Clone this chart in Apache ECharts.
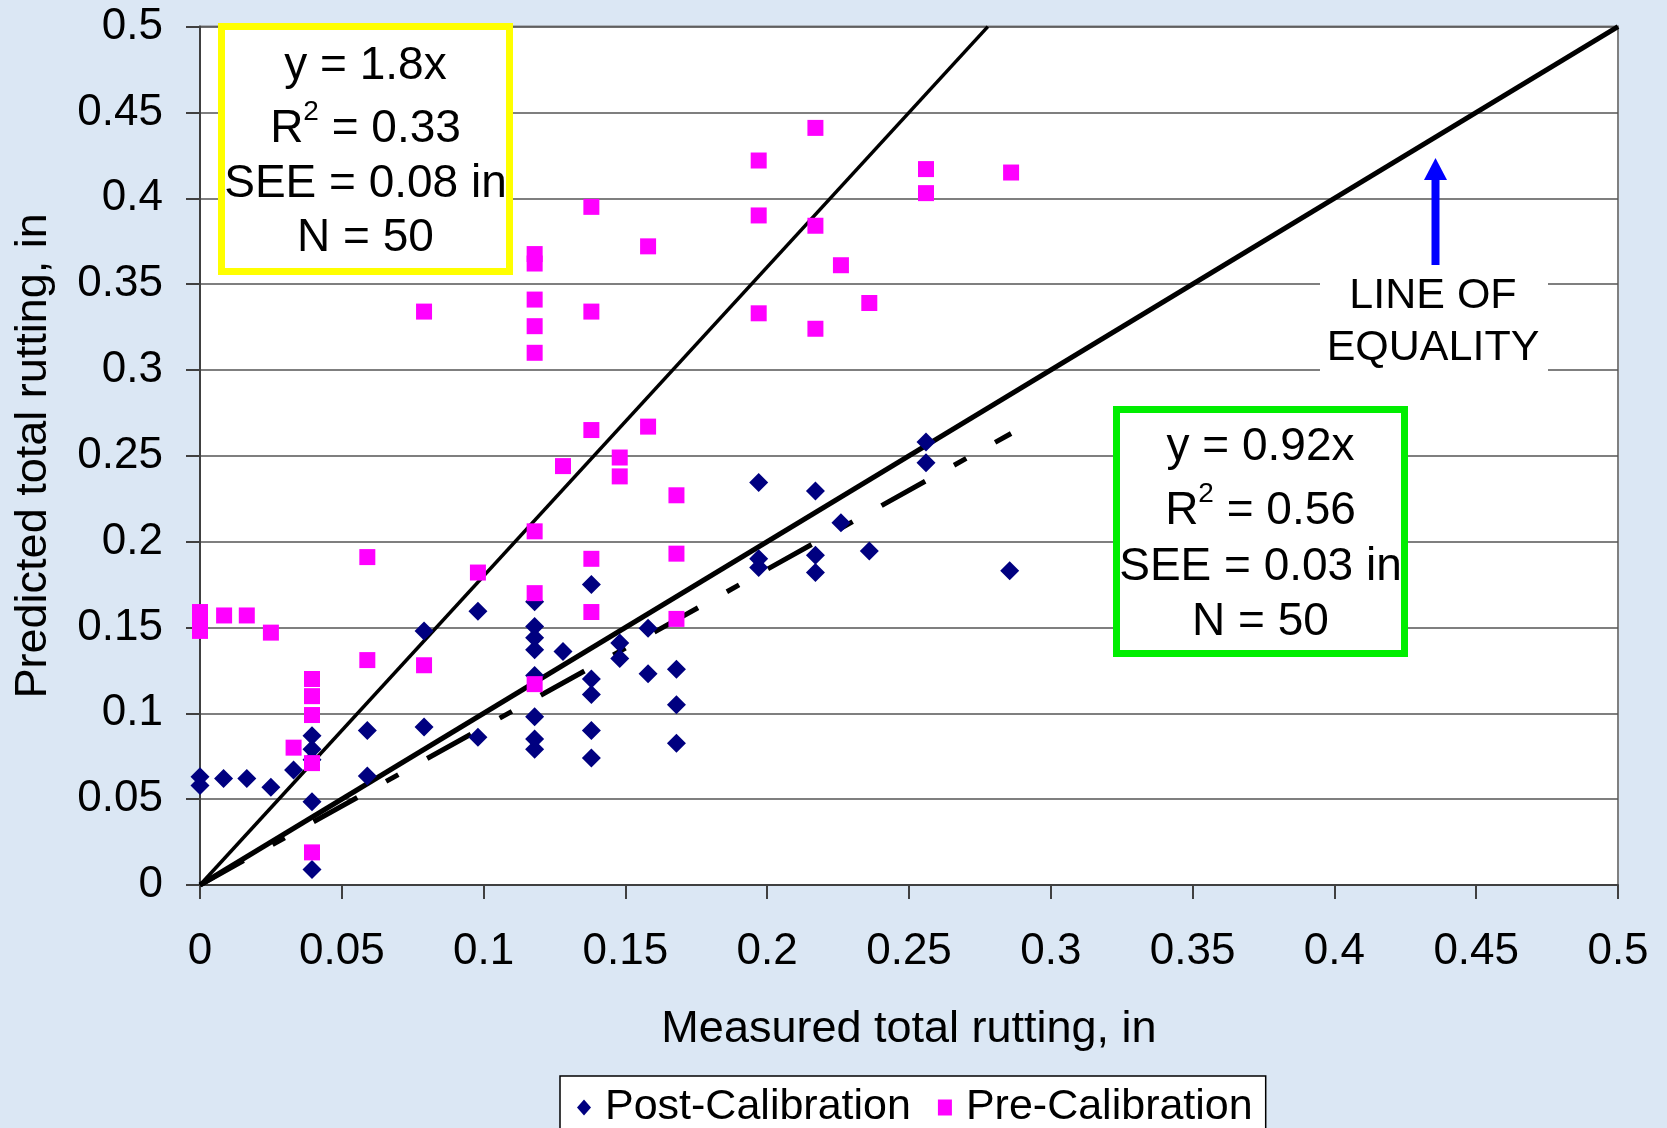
<!DOCTYPE html>
<html>
<head>
<meta charset="utf-8">
<script src="https://cdn.jsdelivr.net/npm/echarts@6/dist/echarts.min.js"></script>
<style>
html,body{margin:0;padding:0;background:#dbe7f4;}
#chart{width:1667px;height:1128px;}
</style>
</head>
<body>
<div id="chart"></div>
<script>
// ---- data ----
var postCalibration = [
  [0,0.063],[0,0.058],[0.0083,0.062],[0.0165,0.062],[0.025,0.057],[0.033,0.067],
  [0.0395,0.087],[0.0395,0.079],[0.0395,0.073],[0.0395,0.0485],[0.0395,0.009],
  [0.059,0.090],[0.059,0.0635],
  [0.079,0.148],[0.079,0.092],
  [0.098,0.1595],[0.098,0.086],
  [0.118,0.165],[0.118,0.1505],[0.118,0.144],[0.118,0.137],[0.118,0.122],[0.118,0.098],[0.118,0.085],[0.118,0.079],
  [0.128,0.136],
  [0.138,0.175],[0.138,0.120],[0.138,0.111],[0.138,0.090],[0.138,0.074],
  [0.148,0.141],[0.148,0.132],
  [0.158,0.1495],[0.158,0.123],
  [0.168,0.1256],[0.168,0.105],[0.168,0.0825],
  [0.197,0.2345],[0.197,0.190],[0.197,0.185],
  [0.217,0.2295],[0.217,0.192],[0.217,0.182],
  [0.226,0.211],[0.236,0.1945],
  [0.256,0.258],[0.256,0.246],
  [0.2855,0.183]
];
var preCalibration = [
  [0,0.159],[0,0.153],[0,0.148],
  [0.0085,0.157],[0.0165,0.157],[0.025,0.147],[0.033,0.080],
  [0.0395,0.120],[0.0395,0.110],[0.0395,0.099],[0.0395,0.071],[0.0395,0.019],
  [0.059,0.191],[0.059,0.131],
  [0.079,0.128],[0.079,0.334],
  [0.098,0.182],
  [0.118,0.206],[0.118,0.170],[0.118,0.117],[0.118,0.3675],[0.118,0.362],[0.118,0.341],[0.118,0.3255],[0.118,0.310],
  [0.128,0.244],
  [0.138,0.265],[0.138,0.190],[0.138,0.159],[0.138,0.395],[0.138,0.334],
  [0.148,0.249],[0.148,0.238],
  [0.158,0.267],[0.158,0.372],
  [0.168,0.227],[0.168,0.193],[0.168,0.155],
  [0.197,0.422],[0.197,0.390],[0.197,0.333],
  [0.217,0.441],[0.217,0.384],[0.217,0.324],
  [0.226,0.361],[0.236,0.339],
  [0.256,0.417],[0.256,0.403],
  [0.286,0.415]
];
var equalityLine = [[0,0],[0.5,0.5]];
var preFitLine = [[0,0],[0.2778,0.5]];      // y = 1.8x
var postFitLine = [[0,0],[0.286,0.263]];    // y = 0.92x
var preStats = ['y = 1.8x', '0.33', 'SEE = 0.08 in', 'N = 50'];
var postStats = ['y = 0.92x', '0.56', 'SEE = 0.03 in', 'N = 50'];
var axisMin = 0, axisMax = 0.5, axisStep = 0.05;

var FONT = '"Liberation Sans", Arial, sans-serif';
var chart = echarts.init(document.getElementById('chart'));

function statBox(cx, lineYs, stats, color, box) {
  var els = [{
    type: 'rect', z: 100,
    shape: box,
    style: {fill: '#fff', stroke: color, lineWidth: 7}
  }];
  var texts = [stats[0], '{a|R}{s|2}{a| = ' + stats[1] + '}', stats[2], stats[3]];
  for (var i = 0; i < 4; i++) {
    els.push({
      type: 'text', z: 101, x: cx, y: lineYs[i],
      style: {
        text: texts[i], fill: '#000', fontSize: 46, fontFamily: FONT,
        align: 'center', verticalAlign: 'middle',
        rich: i === 1 ? {
          a: {fontSize: 46, fontFamily: FONT, lineHeight: 62, fill: '#000'},
          s: {fontSize: 28, fontFamily: FONT, lineHeight: 28, verticalAlign: 'top', fill: '#000'}
        } : undefined
      }
    });
  }
  return els;
}

var graphics = []
  .concat(statBox(365.5, [66, 129, 184, 238], preStats, '#ffff00', {x: 221.5, y: 26.5, width: 288, height: 245}))
  .concat(statBox(1260.5, [447, 511, 567, 622], postStats, '#00ee00', {x: 1116.5, y: 409.5, width: 288, height: 244}))
  .concat([
    {type: 'rect', z: 100, shape: {x: 1320, y: 262, width: 228, height: 114}, style: {fill: '#fff'}},
    {type: 'text', z: 101, x: 1433, y: 296, style: {text: 'LINE OF', fontSize: 43, fontFamily: FONT, fill: '#000', align: 'center', verticalAlign: 'middle'}},
    {type: 'text', z: 101, x: 1433, y: 348, style: {text: 'EQUALITY', fontSize: 43, fontFamily: FONT, fill: '#000', align: 'center', verticalAlign: 'middle'}},
    {type: 'rect', z: 101, shape: {x: 1431.5, y: 178, width: 8, height: 87}, style: {fill: '#0000ff'}},
    {type: 'polygon', z: 101, shape: {points: [[1435.5, 158], [1424, 180], [1447, 180]]}, style: {fill: '#0000ff'}}
  ]);

var option = {
  backgroundColor: 'transparent',
  animation: false,
  textStyle: {fontFamily: FONT},
  grid: {
    left: 200, right: 49, top: 26.6, bottom: 243,
    show: true, backgroundColor: '#fff', borderColor: '#808080', borderWidth: 2
  },
  legend: {
    data: [
      {name: 'Post-Calibration', icon: 'diamond'},
      {name: 'Pre-Calibration', icon: 'rect'}
    ],
    left: 560, top: 1076,
    padding: [10, 13, 14, 17],
    itemWidth: 14, itemHeight: 16, itemGap: 27,
    backgroundColor: '#fff', borderColor: '#000', borderWidth: 1.5, borderRadius: 0,
    textStyle: {fontSize: 43, color: '#000', fontFamily: FONT, padding: [0, 0, 0, 9]}
  },
  xAxis: {
    type: 'value', min: axisMin, max: axisMax, interval: axisStep,
    name: 'Measured total rutting, in', nameLocation: 'middle', nameGap: 122,
    nameTextStyle: {fontSize: 45, color: '#000', fontFamily: FONT},
    axisLine: {lineStyle: {color: '#404040', width: 2}},
    axisTick: {show: true, length: 14, lineStyle: {color: '#404040', width: 2}},
    axisLabel: {fontSize: 44, color: '#000', margin: 45, fontFamily: FONT},
    splitLine: {show: false}
  },
  yAxis: {
    type: 'value', min: axisMin, max: axisMax, interval: axisStep,
    name: 'Predicted total rutting, in', nameLocation: 'middle', nameGap: 144,
    nameTextStyle: {fontSize: 45, color: '#000', fontFamily: FONT},
    axisLine: {lineStyle: {color: '#404040', width: 2}},
    axisTick: {show: true, length: 14, lineStyle: {color: '#404040', width: 2}},
    axisLabel: {fontSize: 44, color: '#000', margin: 37, fontFamily: FONT},
    splitLine: {show: true, lineStyle: {color: '#555', width: 1.5}}
  },
  series: [
    {name: 'equality', type: 'line', data: equalityLine, showSymbol: false, silent: true, z: 2,
     lineStyle: {color: '#000', width: 5}},
    {name: 'preFit', type: 'line', data: preFitLine, showSymbol: false, silent: true, z: 2,
     lineStyle: {color: '#000', width: 3.5}},
    {name: 'postFit', type: 'line', data: postFitLine, showSymbol: false, silent: true, z: 2,
     lineStyle: {color: '#000', width: 5, type: [50, 33, 14, 33], cap: 'butt'}},
    {name: 'Post-Calibration', type: 'scatter', data: postCalibration, symbol: 'diamond', symbolSize: [19, 19], z: 3,
     itemStyle: {color: '#000080', opacity: 1}},
    {name: 'Pre-Calibration', type: 'scatter', data: preCalibration, symbol: 'rect', symbolSize: 16, z: 4,
     itemStyle: {color: '#ff00ff', opacity: 1}}
  ],
  graphic: graphics
};
chart.setOption(option);
</script>
</body>
</html>
